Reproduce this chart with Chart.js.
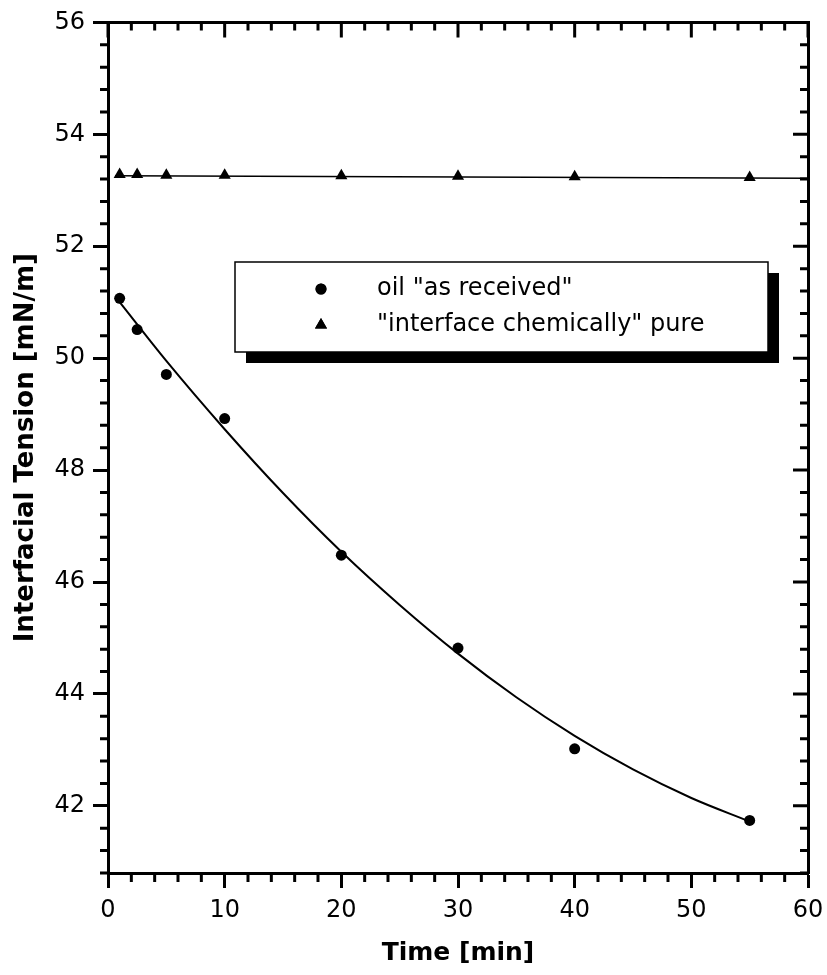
<!DOCTYPE html>
<html lang="en">
<head>
<meta charset="UTF-8">
<title>Interfacial Tension vs Time</title>
<script src="https://cdn.jsdelivr.net/npm/chart.js"></script>
<style>
  html, body { margin: 0; padding: 0; background: #fff; }
  canvas { display: block; }
</style>
</head>
<body>
<canvas id="tensionChart" width="827" height="975"></canvas>
<script>
// measured points
const timeMin = [1, 2.5, 5, 10, 20, 30, 40, 55];
const oilAsReceived = [51.07, 50.51, 49.71, 48.92, 46.48, 44.82, 43.02, 41.74];
const interfacePure = [53.28, 53.28, 53.27, 53.27, 53.26, 53.25, 53.24, 53.23];

// fitted curves
const oilFitTime = [1, 5, 10, 15, 20, 25, 30, 35, 40, 45, 50, 55];
const oilFit = [51.00, 49.95, 48.73, 47.59, 46.54, 45.59, 44.72, 43.94, 43.25, 42.65, 42.14, 41.72];
const pureFitTime = [0.6, 60];
const pureFit = [53.26, 53.215];

const xTicks = [0, 10, 20, 30, 40, 50, 60];
const yTicks = [42, 44, 46, 48, 50, 52, 54, 56];
const seriesLabels = ['oil "as received"', '"interface chemically" pure'];

const FONT = "'DejaVu Sans', Arial, sans-serif";

function pairs(xs, ys) {
    return xs.map((v, i) => ({ x: v, y: ys[i] }));
}

// minor ticks all round, inward ticks on top and right
const frameTicks = {
    id: 'frameTicks',
    afterDraw(chart) {
        const { ctx, chartArea: a, scales: { x, y } } = chart;
        ctx.save();
        ctx.strokeStyle = '#000';
        ctx.lineWidth = 3;
        ctx.beginPath();
        for (let k = 0; k <= 30; k++) {
            const v = k * 2;
            const px = x.getPixelForValue(v);
            const major = v % 10 === 0;
            if (!major) {
                ctx.moveTo(px, a.bottom);
                ctx.lineTo(px, a.bottom + 9);
            }
            ctx.moveTo(px, a.top);
            ctx.lineTo(px, a.top + (major ? 15 : 8));
        }
        for (let k = 0; k <= 38; k++) {
            const v = 40.8 + k * 0.4;
            const py = y.getPixelForValue(v);
            const major = Math.abs(v / 2 - Math.round(v / 2)) < 1e-6;
            if (!major) {
                ctx.moveTo(a.left, py);
                ctx.lineTo(a.left - 8, py);
            }
            ctx.moveTo(a.right, py);
            ctx.lineTo(a.right - (major ? 15 : 8), py);
        }
        ctx.stroke();
        ctx.restore();
    }
};

// framed legend with a drop shadow
const boxLegend = {
    id: 'boxLegend',
    afterDraw(chart) {
        const ctx = chart.ctx;
        const bx = 235, by = 262, bw = 533, bh = 90;
        ctx.save();
        ctx.fillStyle = '#000';
        ctx.fillRect(bx + 11, by + 11, bw, bh);
        ctx.fillStyle = '#fff';
        ctx.fillRect(bx, by, bw, bh);
        ctx.lineWidth = 1.5;
        ctx.strokeStyle = '#000';
        ctx.strokeRect(bx, by, bw, bh);

        const marked = chart.data.datasets.filter(d => d.pointRadius > 0);
        ctx.font = '24px ' + FONT;
        ctx.textBaseline = 'middle';
        ctx.textAlign = 'left';
        marked.forEach((d, i) => {
            const rowY = 289 + i * 36;
            ctx.fillStyle = '#000';
            Chart.helpers.drawPoint(ctx, {
                pointStyle: d.pointStyle,
                radius: d.pointRadius,
                rotation: 0,
                borderWidth: 0
            }, 321, rowY);
            ctx.fill();
            ctx.fillText(d.label, 377, rowY);
        });
        ctx.restore();
    }
};

const ctx = document.getElementById('tensionChart').getContext('2d');
new Chart(ctx, {
    type: 'scatter',
    data: {
        datasets: [
            {
                label: 'fit oil',
                data: pairs(oilFitTime, oilFit),
                showLine: true,
                borderColor: '#000',
                borderWidth: 2,
                pointRadius: 0,
                cubicInterpolationMode: 'monotone'
            },
            {
                label: 'fit pure',
                data: pairs(pureFitTime, pureFit),
                showLine: true,
                borderColor: '#000',
                borderWidth: 1.5,
                pointRadius: 0
            },
            {
                label: seriesLabels[0],
                data: pairs(timeMin, oilAsReceived),
                pointStyle: 'circle',
                pointRadius: 5.5,
                backgroundColor: '#000',
                borderColor: '#000',
                borderWidth: 0
            },
            {
                label: seriesLabels[1],
                data: pairs(timeMin, interfacePure),
                pointStyle: 'triangle',
                pointRadius: 7,
                backgroundColor: '#000',
                borderColor: '#000',
                borderWidth: 0
            }
        ]
    },
    options: {
        responsive: false,
        animation: false,
        layout: { padding: 0 },
        plugins: {
            legend: { display: false },
            tooltip: { enabled: false }
        },
        scales: {
            x: {
                type: 'linear',
                position: 'bottom',
                min: 0,
                max: 60,
                afterBuildTicks: s => { s.ticks = xTicks.map(v => ({ value: v })); },
                afterFit: s => {
                    s.height = 102;
                    s.paddingLeft = 0;
                    s.paddingRight = 0;
                },
                ticks: { color: '#000', padding: 8, font: { family: FONT, size: 24 } },
                grid: {
                    drawOnChartArea: false, drawTicks: true, tickLength: 15,
                    tickWidth: 3, tickColor: '#000', color: '#000'
                },
                border: { display: true, color: '#000', width: 3 },
                title: {
                    display: true, text: 'Time [min]', color: '#000',
                    font: { family: FONT, size: 25, weight: 'bold' },
                    padding: { top: 0, bottom: 7 }
                }
            },
            xTop: {
                type: 'linear',
                position: 'top',
                min: 0,
                max: 60,
                afterFit: s => { s.height = 22; },
                ticks: { display: false },
                grid: { display: false },
                border: { display: true, color: '#000', width: 3 }
            },
            y: {
                type: 'linear',
                position: 'left',
                min: 40.8,
                max: 56,
                afterBuildTicks: s => { s.ticks = yTicks.map(v => ({ value: v })); },
                afterFit: s => { s.width = 108; },
                ticks: { color: '#000', padding: 8, font: { family: FONT, size: 24 } },
                grid: {
                    drawOnChartArea: false, drawTicks: true, tickLength: 15,
                    tickWidth: 3, tickColor: '#000', color: '#000'
                },
                border: { display: true, color: '#000', width: 3 },
                title: {
                    display: true, text: 'Interfacial Tension [mN/m]', color: '#000',
                    font: { family: FONT, size: 26, weight: 'bold' },
                    padding: { top: 11, bottom: 0 }
                }
            },
            yRight: {
                type: 'linear',
                position: 'right',
                min: 40.8,
                max: 56,
                afterFit: s => { s.width = 19; },
                ticks: { display: false },
                grid: { display: false },
                border: { display: true, color: '#000', width: 3 }
            }
        }
    },
    plugins: [frameTicks, boxLegend]
});
</script>
</body>
</html>
